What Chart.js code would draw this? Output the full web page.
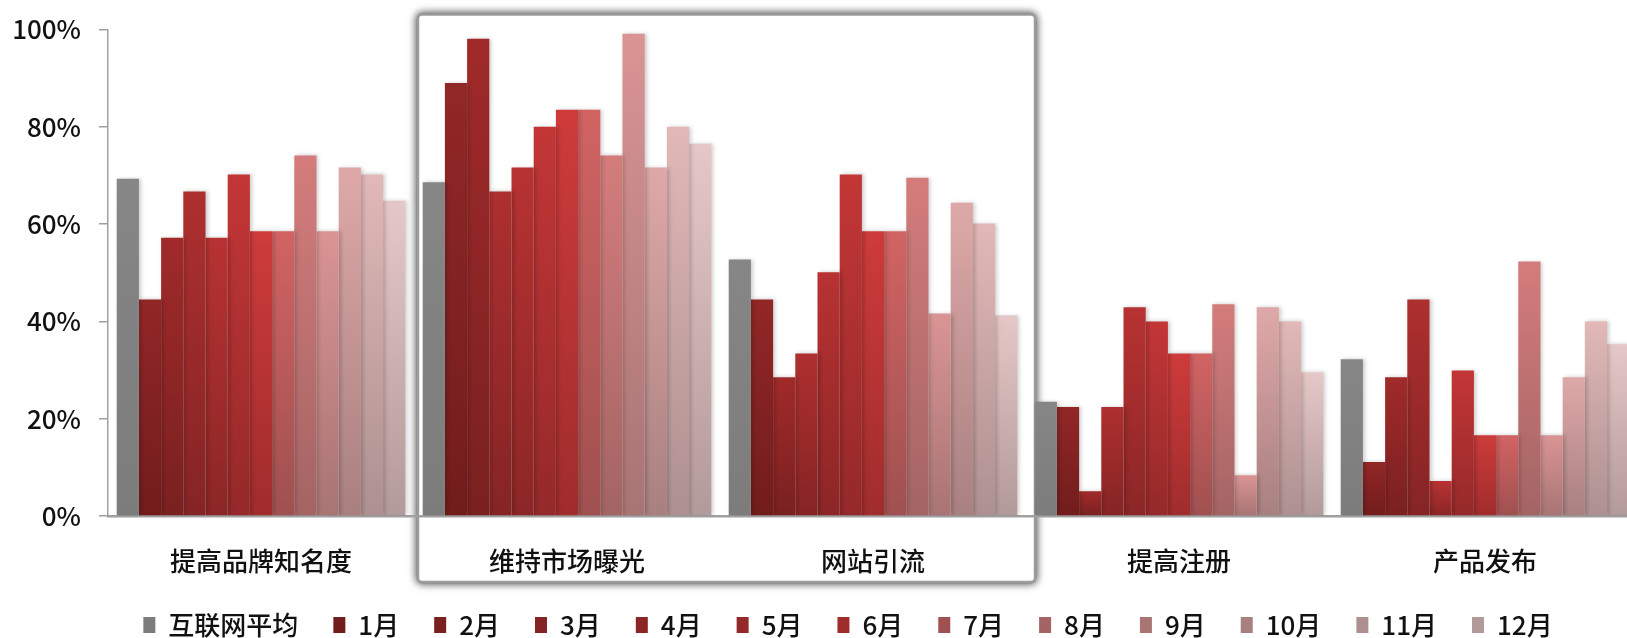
<!DOCTYPE html>
<html>
<head>
<meta charset="utf-8">
<script src="https://cdn.jsdelivr.net/npm/chart.js@4.4.0/dist/chart.umd.min.js"></script>
<style>
  html, body { margin: 0; padding: 0; overflow: hidden; background: #fff; }
  #wrap { width: 1696px; height: 638px; }
</style>
</head>
<body>
<div id="wrap"><canvas id="goalChart" width="1696" height="638"></canvas></div>
<script>
  const categories = ['提高品牌知名度', '维持市场曝光', '网站引流', '提高注册', '产品发布'];
  const seriesNames = ['互联网平均', '1月', '2月', '3月', '4月', '5月', '6月', '7月', '8月', '9月', '10月', '11月', '12月'];
  const yTicks = [0, 20, 40, 60, 80, 100];

  // industry average, one value per category (%)
  const internetAvg = [69.3, 68.6, 52.7, 23.5, 32.2];

  // one row per month, one value per category (%)
  const monthValues = [
    [44.5, 89.0, 44.5, 22.4, 11.1],
    [57.2, 98.1, 28.5, 5.1, 28.5],
    [66.7, 66.7, 33.4, 22.4, 44.5],
    [57.2, 71.6, 50.1, 42.9, 7.2],
    [70.2, 80.0, 70.2, 40.0, 29.9],
    [58.5, 83.5, 58.5, 33.4, 16.6],
    [58.5, 83.5, 58.5, 33.4, 16.6],
    [74.1, 74.1, 69.5, 43.5, 52.3],
    [58.5, 99.1, 41.6, 8.4, 16.6],
    [71.6, 71.6, 64.4, 42.9, 28.5],
    [70.2, 80.0, 60.1, 40.0, 40.0],
    [64.8, 76.5, 41.2, 29.5, 35.3]
  ];

  const topColors = ['#868686', '#922727', '#a12a2a', '#ae2f2f', '#b83232', '#c33636', '#ce3b3b',
    '#d26363', '#d47c7c', '#da9494', '#dea8a8', '#e2b8b8', '#e6c7c7'];
  const bottomColors = ['#7c7c7c', '#721c1c', '#7a2020', '#852424', '#8c2626', '#952929', '#a02c2c',
    '#a05050', '#a46464', '#a87474', '#a98080', '#ae9090', '#b39a9a'];

  Chart.defaults.font.family = '"Noto Sans CJK SC", "Microsoft YaHei", sans-serif';
  Chart.defaults.font.weight = '500';

  // vertical gradient per bar, from its top down to the baseline
  function barFill(i) {
    return ctx => {
      const y = ctx.chart.scales.y;
      if (ctx.type !== 'data' || !y) return topColors[i];
      const top = y.getPixelForValue(ctx.raw);
      const base = y.getPixelForValue(0);
      if (!isFinite(top) || !isFinite(base)) return topColors[i];
      const g = ctx.chart.ctx.createLinearGradient(0, top, 0, base);
      g.addColorStop(0, topColors[i]);
      g.addColorStop(1, bottomColors[i]);
      return g;
    };
  }

  const allSeries = [internetAvg, ...monthValues];
  const datasets = allSeries.map((values, i) => ({
    label: seriesNames[i],
    data: values,
    backgroundColor: barFill(i),
    borderWidth: 0
  }));

  // framed panel around the second and third groups
  const focusBox = {
    id: 'focusBox',
    beforeDraw(chart) {
      const x = chart.scales.x, area = chart.chartArea;
      const half = (x.getPixelForTick(1) - x.getPixelForTick(0)) / 2;
      const left = x.getPixelForTick(1) - half + 4;
      const right = x.getPixelForTick(2) + half + 9;
      const top = area.top - 15, bottom = area.bottom + 66;
      const c = chart.ctx;
      c.save();
      c.shadowColor = 'rgba(0, 0, 0, 0.75)';
      c.shadowBlur = 9;
      c.fillStyle = '#fff';
      c.strokeStyle = '#9c9c9c';
      c.lineWidth = 2.5;
      c.beginPath();
      c.roundRect(left, top, right - left, bottom - top, 4);
      c.stroke();
      c.fill();
      c.shadowColor = 'transparent';
      c.stroke();
      c.restore();
    }
  };

  const barShadow = {
    id: 'barShadow',
    beforeDatasetsDraw(chart) {
      const c = chart.ctx;
      c.save();
      c.shadowColor = 'rgba(0, 0, 0, 0.2)';
      c.shadowBlur = 4;
      c.shadowOffsetX = 2;
    },
    afterDatasetsDraw(chart) {
      chart.ctx.restore();
    }
  };

  const chart = new Chart(document.getElementById('goalChart').getContext('2d'), {
    type: 'bar',
    data: { labels: categories, datasets: datasets },
    plugins: [focusBox, barShadow],
    options: {
      responsive: false,
      animation: false,
      events: [],
      layout: { padding: { top: 20, left: 0, right: 0, bottom: -10 } },
      datasets: { bar: { categoryPercentage: 0.943, barPercentage: 1 } },
      plugins: {
        tooltip: { enabled: false },
        legend: {
          position: 'bottom',
          labels: { boxWidth: 12, boxHeight: 16, padding: 35, color: '#111', font: { size: 26 } }
        }
      },
      scales: {
        x: {
          grid: { display: false },
          border: { color: '#a0a0a0', width: 2.5 },
          ticks: { color: '#111', font: { size: 26 }, padding: 22, maxRotation: 0, autoSkip: false },
          afterFit(s) { s.height = 61; }
        },
        y: {
          min: 0,
          max: 100,
          afterBuildTicks(s) { s.ticks = yTicks.map(v => ({ value: v })); },
          ticks: { padding: 18, color: '#111', font: { size: 26, lineHeight: 0.88 }, callback: v => v + '%' },
          grid: { drawOnChartArea: false, drawTicks: true, tickLength: 9, color: '#a0a0a0', lineWidth: 1.5 },
          border: { color: '#a0a0a0', width: 1.5 },
          afterFit(s) { s.width = 108; }
        },
        // empty strip on the right so the plot runs past the page edge
        yPad: {
          position: 'right',
          grid: { display: false },
          border: { display: false },
          ticks: { display: false },
          afterFit(s) { s.width = 58; }
        }
      }
    }
  });
  // gradients depend on the final scale, so resolve them once more
  chart.update();
</script>
</body>
</html>
